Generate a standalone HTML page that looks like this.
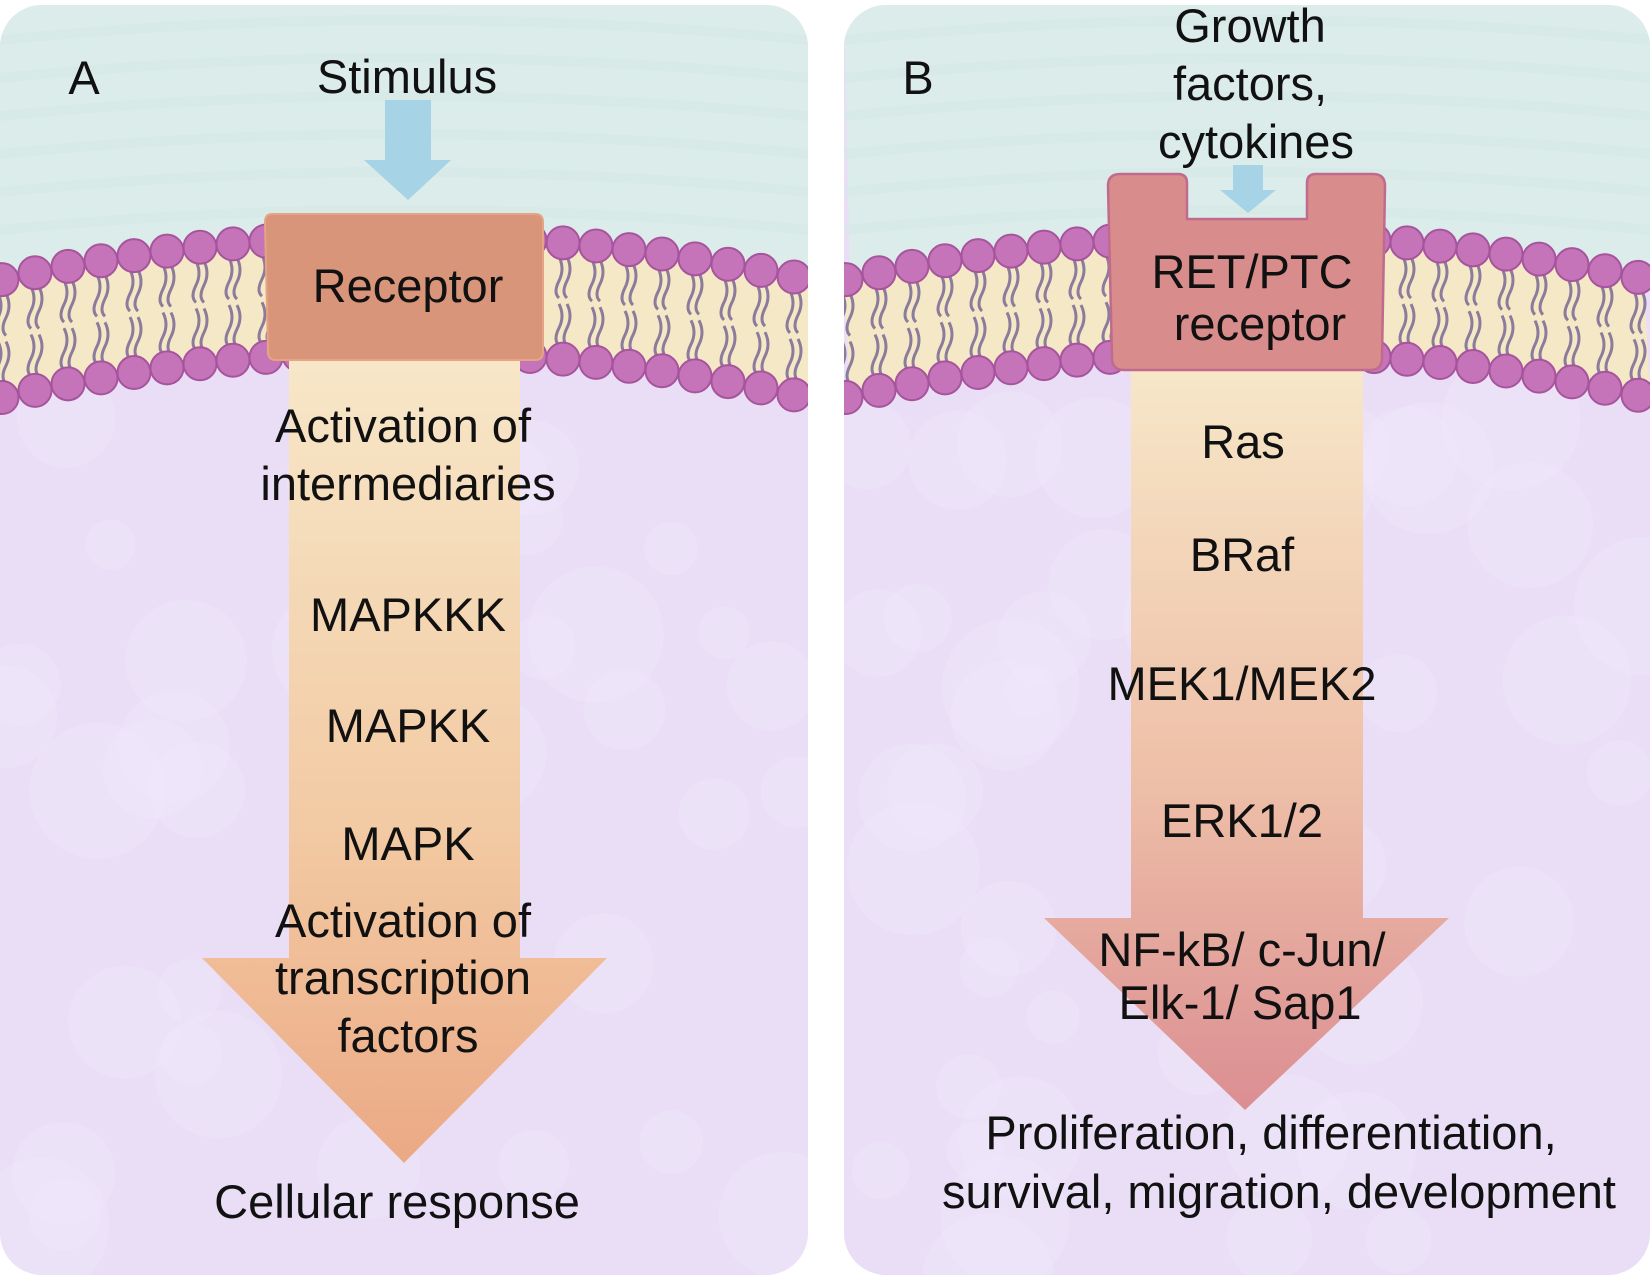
<!DOCTYPE html>
<html><head><meta charset="utf-8"><style>
html,body{margin:0;padding:0;background:#fff;overflow:hidden;width:1650px;height:1276px;}
svg{display:block;}
text{font-family:"Liberation Sans",Arial,sans-serif;fill:#111;font-size:47px;text-anchor:middle;}
</style></head><body>
<svg id="s" width="1650" height="1276" viewBox="0 0 1650 1276" xmlns="http://www.w3.org/2000/svg">
<defs>
<linearGradient id="gA" x1="0" y1="0" x2="0" y2="1">
<stop offset="0" stop-color="#f7e7c8"/><stop offset="0.6" stop-color="#f2c9a2"/><stop offset="1" stop-color="#eba985"/>
</linearGradient>
<linearGradient id="gB" x1="0" y1="0" x2="0" y2="1">
<stop offset="0" stop-color="#f7e7c8"/><stop offset="0.55" stop-color="#eec0a8"/><stop offset="1" stop-color="#db8e92"/>
</linearGradient>
<clipPath id="cA"><rect x="0" y="5" width="808" height="1270" rx="42"/></clipPath>
<clipPath id="cB"><rect x="844" y="5" width="806" height="1270" rx="42"/></clipPath>
</defs>
<g id="pA" clip-path="url(#cA)"></g>
<g id="pB" clip-path="url(#cB)"></g>
</svg>
<script>
var NS="http://www.w3.org/2000/svg";
function el(p,t,a){var e=document.createElementNS(NS,t);for(var k in a)e.setAttribute(k,a[k]);p.appendChild(e);return e;}
function panel(g,x0,w){
 var xc=x0+w/2,h=w/2;
 function yt(x){return 236+44*Math.pow((x-xc)/h,2);}
 function yb(x){return 352+46*Math.pow((x-xc)/h,2);}
 el(g,'rect',{x:x0,y:0,width:w,height:1276,fill:'#e9def6'});
 var seed=x0+7;function r(){seed=(seed*9301+49297)%233280;return seed/233280;}
 for(var i=0;i<45;i++){el(g,'circle',{cx:x0+r()*w,cy:400+r()*880,r:25+r()*45,fill:'#efe6fa',opacity:0.45});}
 var d='M'+x0+',0 L'+(x0+w)+',0 L'+(x0+w)+','+yt(x0+w);
 for(var x=x0+w;x>=x0;x-=8)d+=' L'+x+','+yt(x);
 d+=' Z';el(g,'path',{d:d,fill:'#dcecea'});
 for(var j=0;j<6;j++){el(g,'path',{d:'M'+x0+','+(40+j*38)+' Q'+xc+','+(0+j*38)+' '+(x0+w)+','+(40+j*38),fill:'none',stroke:'#d4e7e5','stroke-width':10,opacity:0.5});}
 var b='M'+x0+','+yt(x0);
 for(var x=x0;x<=x0+w;x+=8)b+=' L'+x+','+yt(x);
 for(var x=x0+w;x>=x0;x-=8)b+=' L'+x+','+yb(x);
 b+=' Z';el(g,'path',{d:b,fill:'#f5e8c6'});
 for(var x=x0+2;x<=x0+w+16;x+=33){
  var t=yt(x)+14,bb=yb(x)-14,m=(t+bb)/2;
  [-4,4].forEach(function(o){
   el(g,'path',{d:'M'+(x+o)+','+t+' q6,12 0,24 q-6,12 0,'+(m-t-24-3)+' M'+(x+o)+','+(m+3)+' q6,12 0,24 q-6,12 0,'+(bb-m-27),fill:'none',stroke:'#8c7c9c','stroke-width':3});
  });
 }
 for(var x=x0+2;x<=x0+w+16;x+=33){
  el(g,'circle',{cx:x,cy:yt(x),r:16.5,fill:'#c674b9',stroke:'#a6549c','stroke-width':2});
  el(g,'circle',{cx:x,cy:yb(x),r:16.5,fill:'#c674b9',stroke:'#a6549c','stroke-width':2});
 }
}
panel(document.getElementById('pA'),0,808);
panel(document.getElementById('pB'),844,806);
var s=document.getElementById('s');
el(s,'path',{d:'M289,355 L520,355 L520,958 L607,958 L404,1163 L202,958 L289,958 Z',fill:'url(#gA)'});
el(s,'path',{d:'M385,100 L431,100 L431,160 L451,160 L408,200 L364,160 L385,160 Z',fill:'#a6d3e6'});
el(s,'path',{d:'M272,214 Q265,214 265,222 L268,352 Q268,360 276,360 L535,360 Q543,360 543,352 L543,222 Q543,214 535,214 Z',fill:'#d9957a',stroke:'#e5a584','stroke-width':2});
el(s,'path',{d:'M1131,365 L1363,365 L1363,918 L1449,918 L1245,1110 L1044,918 L1131,918 Z',fill:'url(#gB)'});
el(s,'path',{d:'M1120,174 L1178,174 Q1187,174 1187,183 L1187,219 L1307,219 L1307,183 Q1307,174 1316,174 L1373,174 Q1385,174 1385,186 L1382,358 Q1382,370 1370,370 L1124,370 Q1112,370 1112,358 L1108,186 Q1108,174 1120,174 Z',fill:'#d88c8c',stroke:'#c06a8e','stroke-width':2.5});
el(s,'path',{d:'M1233,165 L1263,165 L1263,190 L1276,190 L1248,213 L1220,190 L1233,190 Z',fill:'#a6d3e6'});
var T=[
['A',84,94,64],['Stimulus',407,93],['Receptor',408,302],['Activation of',403,442],['intermediaries',408,500],
['MAPKKK',408,631],['MAPKK',408,742],['MAPK',408,860],['Activation of',403,937],['transcription',403,994],['factors',408,1052],['Cellular response',397,1218],
['B',918,94,64],['Growth',1250,42],['factors,',1250,100],['cytokines',1256,158],['RET/PTC',1252,288],['receptor',1260,340],
['Ras',1243,458],['BRaf',1242,571],['MEK1/MEK2',1242,700],['ERK1/2',1242,837],['NF-kB/ c-Jun/',1242,966],['Elk-1/ Sap1',1240,1019],
['Proliferation, differentiation,',1271,1149],['survival, migration, development',1279,1208]];
T.forEach(function(a){var t=el(s,'text',{x:a[1],y:a[2]});if(a[3])t.setAttribute('font-size',a[3]);t.textContent=a[0];});
</script>
</body></html>
